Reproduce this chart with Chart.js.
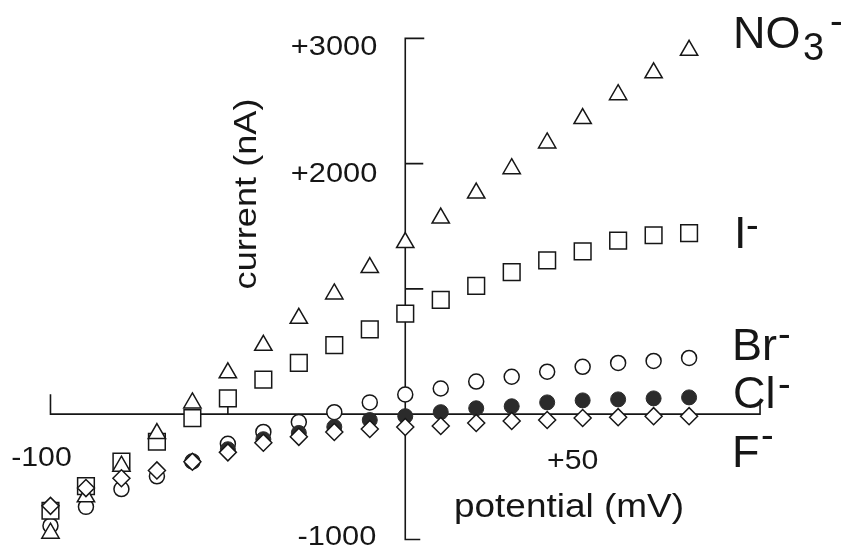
<!DOCTYPE html>
<html>
<head>
<meta charset="utf-8">
<script src="https://cdn.jsdelivr.net/npm/chart.js@4"></script>
<style>
    body { margin: 0; background: #fff; }
    canvas { display: block; }
</style>
</head>
<body>
<canvas id="ivchart" width="846" height="559"></canvas>
<script>

// membrane potential (mV)
const potential = [-100, -90, -80, -70, -60, -50, -40, -30, -20, -10, 0, 10, 20, 30, 40, 50, 60, 70, 80];

// current (nA) per anion
const nitrate = [-950, -660, -415, -155, 90, 330, 550, 765, 960, 1170, 1370, 1565, 1765, 1960, 2165, 2360, 2550, 2725, 2905];
const iodide = [-771, -575, -378, -220, -31, 126, 276, 409, 551, 677, 803, 913, 1024, 1134, 1228, 1299, 1386, 1428, 1445];
const bromide = [-890, -740, -598, -496, -378, -236, -142, -63, 16, 94, 157, 205, 260, 299, 339, 378, 409, 425, 449];
const chloride = [null, null, null, null, -378, -280, -200, -150, -102, -47, -16, 16, 47, 63, 94, 110, 118, 126, 134];
const fluoride = [-732, -590, -512, -449, -380, -305, -228, -181, -142, -118, -102, -94, -71, -55, -47, -31, -24, -16, -16];

const yTicks = [3000, 2000, 1000, -1000];
const yTickLabels = ['+3000', '+2000', '', '-1000'];
const xTicks = [-100, -50, 50, 100];
const xTickLabels = ['-100', '', '+50', ''];

const ink = '#161616';
const fontFamily = '"Liberation Sans", Arial, sans-serif';

function toPoints(values) {
    return potential.map(function(v, i) {
        return { x: v, y: values[i] };
    });
}

function drawText(ctx, s, x, y, size, align, sx) {
    ctx.save();
    ctx.font = size + 'px ' + fontFamily;
    ctx.textAlign = align || 'left';
    ctx.textBaseline = 'alphabetic';
    ctx.translate(x, y);
    ctx.scale(sx || 1, 1);
    ctx.fillText(s, 0, 0);
    ctx.restore();
}

const axesPlugin = {
    id: 'crossAxes',
    beforeDatasetsDraw(chart) {
        const ctx = chart.ctx;
        const x = chart.scales.x;
        const y = chart.scales.y;
        const x0 = x.getPixelForValue(0);
        const y0 = y.getPixelForValue(0);

        ctx.save();
        ctx.strokeStyle = ink;
        ctx.lineWidth = 1.6;
        ctx.beginPath();

        // horizontal axis, ends turned up
        const xl = x.getPixelForValue(xTicks[0]);
        const xr = x.getPixelForValue(xTicks[3]);
        ctx.moveTo(xl, y0 - 20);
        ctx.lineTo(xl, y0);
        ctx.lineTo(xr, y0);
        ctx.lineTo(xr, y0 - 12);
        ctx.moveTo(x.getPixelForValue(xTicks[1]), y0);
        ctx.lineTo(x.getPixelForValue(xTicks[1]), y0 - 8);

        // vertical axis, ticks to the right
        const yt = y.getPixelForValue(yTicks[0]);
        const yb = y.getPixelForValue(yTicks[3]);
        ctx.moveTo(x0 + 19, yt);
        ctx.lineTo(x0, yt);
        ctx.lineTo(x0, yb);
        ctx.lineTo(x0 + 15, yb);
        [yTicks[1], yTicks[2]].forEach(function(v) {
            const py = y.getPixelForValue(v);
            ctx.moveTo(x0, py);
            ctx.lineTo(x0 + 18, py);
        });
        ctx.stroke();
        ctx.restore();
    },
    afterDraw(chart) {
        const ctx = chart.ctx;
        const x = chart.scales.x;
        const y = chart.scales.y;
        const x0 = x.getPixelForValue(0);
        const y0 = y.getPixelForValue(0);

        ctx.save();
        ctx.fillStyle = ink;

        // tick labels
        drawText(ctx, yTickLabels[0], x0 - 28, y.getPixelForValue(yTicks[0]) + 17, 27, 'right', 1.14);
        drawText(ctx, yTickLabels[1], x0 - 28, y.getPixelForValue(yTicks[1]) + 18, 27, 'right', 1.14);
        drawText(ctx, yTickLabels[3], x0 - 29, y.getPixelForValue(yTicks[3]) + 6, 27, 'right', 1.14);
        drawText(ctx, xTickLabels[0], x.getPixelForValue(xTicks[0]) - 9, y0 + 52, 27, 'center', 1.12);
        drawText(ctx, xTickLabels[2], x.getPixelForValue(xTicks[2]) - 10, y0 + 55, 27, 'center', 1.12);

        // axis titles
        drawText(ctx, 'potential (mV)', 569, 517, 33, 'center', 1.12);
        ctx.save();
        ctx.translate(256, 194);
        ctx.rotate(-Math.PI / 2);
        drawText(ctx, 'current (nA)', 0, 0, 32, 'center', 1.13);
        ctx.restore();

        // anion names
        drawText(ctx, 'NO', 733, 48, 45);
        drawText(ctx, '3', 803, 60, 38);
        drawText(ctx, '-', 830, 34, 38);
        drawText(ctx, 'I', 734, 248, 45);
        drawText(ctx, '-', 746, 238, 38);
        drawText(ctx, 'Br', 732, 360, 45);
        drawText(ctx, '-', 778, 347, 38);
        drawText(ctx, 'Cl', 733, 408, 45);
        drawText(ctx, '-', 778, 397, 38);
        drawText(ctx, 'F', 732, 467, 45);
        drawText(ctx, '-', 761, 448, 38);

        ctx.restore();
    }
};

function openSeries(values, style, radius) {
    return {
        data: toPoints(values),
        pointStyle: style,
        pointRadius: radius,
        pointBackgroundColor: '#ffffff',
        pointBorderColor: ink,
        pointBorderWidth: 1.5,
        showLine: false,
        clip: false
    };
}

const ctx = document.querySelector('#ivchart').getContext('2d');

// first dataset is drawn on top
const configuration = {
    type: 'scatter',
    data: {
        datasets: [
            openSeries(fluoride, 'rectRot', 8.5),
            {
                data: toPoints(chloride),
                pointStyle: 'circle',
                pointRadius: 7.5,
                pointBackgroundColor: '#2b2b2b',
                pointBorderColor: '#2b2b2b',
                pointBorderWidth: 1,
                showLine: false,
                clip: false
            },
            openSeries(nitrate, 'triangle', 10),
            openSeries(iodide, 'rect', 11.8),
            openSeries(bromide, 'circle', 7.5)
        ]
    },
    options: {
        responsive: false,
        animation: false,
        layout: {
            padding: { left: 15, right: 15, top: 13, bottom: 8 }
        },
        plugins: {
            legend: { display: false },
            tooltip: { enabled: false }
        },
        scales: {
            x: { type: 'linear', min: -110, max: 120, display: false },
            y: { type: 'linear', min: -1050, max: 3200, display: false }
        }
    },
    plugins: [axesPlugin]
};

new Chart(ctx, configuration);
</script>
</body>
</html>
